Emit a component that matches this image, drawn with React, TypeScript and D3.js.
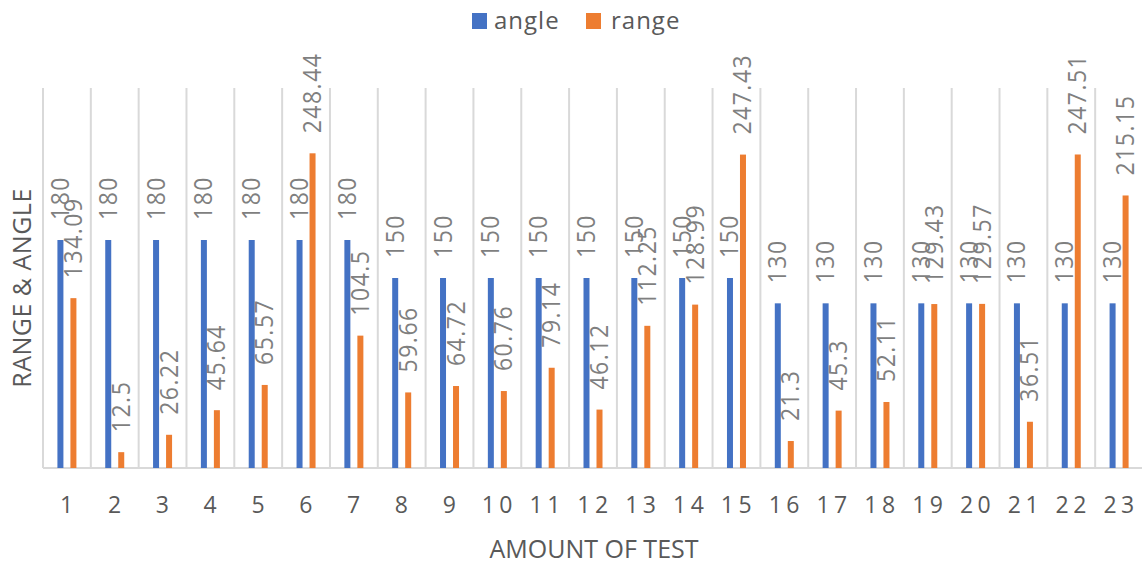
import React from "react";
import * as d3 from "d3";

const categories = ["1","2","3","4","5","6","7","8","9","10","11","12","13","14","15","16","17","18","19","20","21","22","23"];
const angleValues = [180,180,180,180,180,180,180,150,150,150,150,150,150,150,150,130,130,130,130,130,130,130,130];
const rangeValues = [134.09,12.5,26.22,45.64,65.57,248.44,104.5,59.66,64.72,60.76,79.14,46.12,112.25,128.99,247.43,21.3,45.3,52.11,129.43,129.57,36.51,247.51,215.15];
const seriesNames = ["angle", "range"];
const seriesColors = ["#4472C4", "#ED7D31"];
const yDomain = [0, 300];

const W = 1142, H = 565;
const left = 43, right = 1143, top = 88, bottom = 468;

export default function App() {
  const x0 = d3.scaleBand<string>().domain(categories).range([left, right]).padding(0);
  const bw = x0.bandwidth();
  const x1 = d3.scaleBand<string>().domain(seriesNames).range([bw / 2 - 9.5, bw / 2 + 9.5]).paddingInner(7 / 13).paddingOuter(0);
  const y = d3.scaleLinear().domain(yDomain).range([bottom, top]);
  const series = [angleValues, rangeValues];
  const font = "'Open Sans', 'DejaVu Sans', sans-serif";

  return (
    <svg width={W} height={H} style={{ position: "absolute", left: 0, top: 0, background: "#fff" }} fontFamily={font}>
      {categories.map((c) => (
        <line key={"g" + c} x1={x0(c)!} x2={x0(c)!} y1={top} y2={bottom} stroke="#d9d9d9" strokeWidth={2} />
      ))}
      <line x1={right} x2={right} y1={top} y2={bottom} stroke="#d9d9d9" strokeWidth={2} />
      <line x1={left} x2={right} y1={bottom} y2={bottom} stroke="#d9d9d9" strokeWidth={2} />
      {series.map((vals, si) =>
        vals.map((v, i) => {
          const c = categories[i];
          const bx = x0(c)! + x1(seriesNames[si])!;
          return (
            <rect key={si + "-" + i} x={bx} y={y(v)} width={x1.bandwidth()} height={bottom - y(v)} fill={seriesColors[si]} />
          );
        })
      )}
      {series.map((vals, si) =>
        vals.map((v, i) => {
          const c = categories[i];
          const cx = x0(c)! + x1(seriesNames[si])! + x1.bandwidth() / 2;
          const ty = y(v) - 20;
          return (
            <text key={"l" + si + "-" + i} transform={`translate(${cx + 8.5},${ty}) rotate(-90) scale(1,1.08)`} fontSize={23} letterSpacing={1.5} fill="#7f7f7f">
              {String(v)}
            </text>
          );
        })
      )}
      {categories.map((c) => (
        <text key={"t" + c} x={x0(c)! + bw / 2 + 2} y={513} textAnchor="middle" fontSize={23} letterSpacing={4.5} fill="#595959">
          {c}
        </text>
      ))}
      <text x={(left + right) / 2 + 1} y={558} textAnchor="middle" fontSize={25} fill="#595959">AMOUNT OF TEST</text>
      <text transform={`translate(31,${(top + bottom) / 2 + 10}) rotate(-90)`} textAnchor="middle" fontSize={25} letterSpacing={0.5} fill="#595959">RANGE &amp; ANGLE</text>
      <rect x={472} y={13} width={15} height={16} fill={seriesColors[0]} />
      <text x={494} y={29} fontSize={24} letterSpacing={1} fill="#595959">{seriesNames[0]}</text>
      <rect x={586} y={13} width={15} height={16} fill={seriesColors[1]} />
      <text x={611} y={29} fontSize={24} letterSpacing={1} fill="#595959">{seriesNames[1]}</text>
    </svg>
  );
}
